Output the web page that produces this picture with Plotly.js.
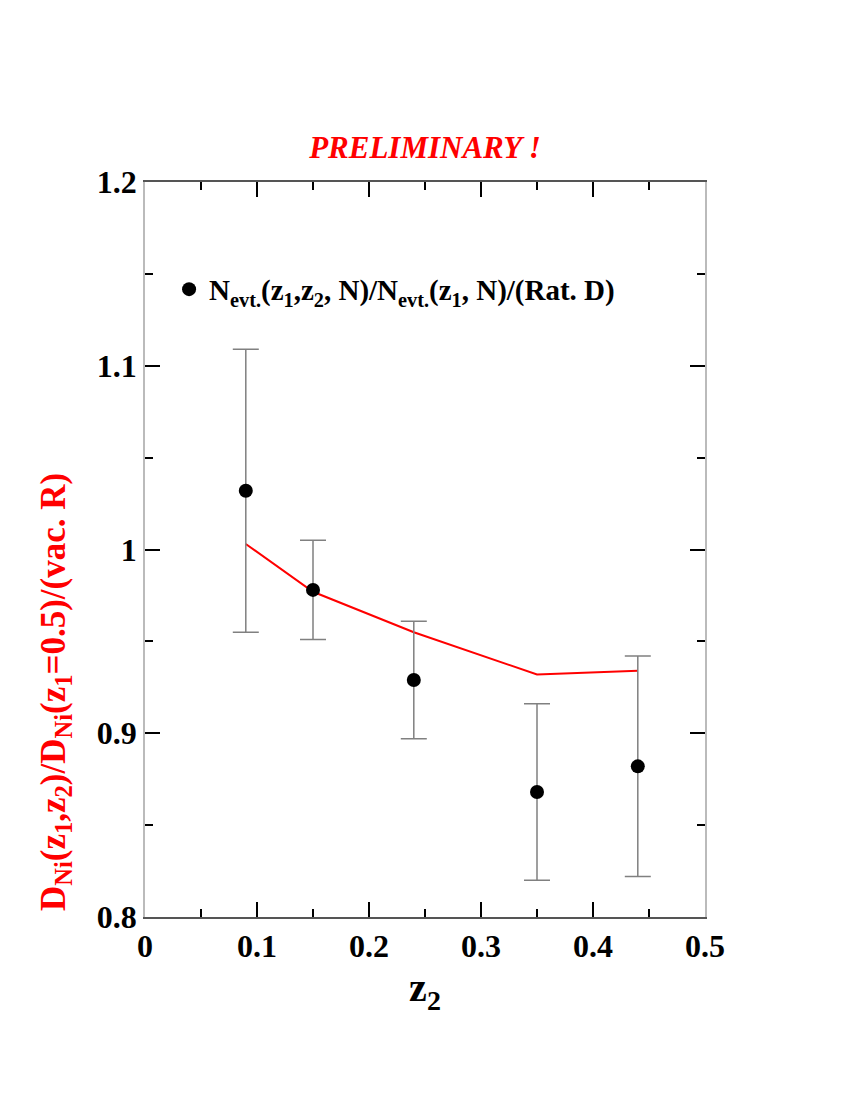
<!DOCTYPE html>
<html>
<head>
<meta charset="utf-8">
<script src="https://cdn.plot.ly/plotly-3.0.1.min.js"></script>
<style>
body { margin: 0; background: #fff; }
#c1 { width: 850px; height: 1100px; }
</style>
</head>
<body>
<div id="c1"></div>
<script>
// data points, error bar ends
var z2 = [0.09, 0.15, 0.24, 0.35, 0.44];
var ratio = [1.032, 0.978, 0.929, 0.868, 0.882];
var errTop = [1.109, 1.005, 0.961, 0.916, 0.942];
var errBot = [0.955, 0.951, 0.897, 0.820, 0.822];

// red curve
var curveX = [0.09, 0.15, 0.24, 0.35, 0.44];
var curveY = [1.003, 0.977, 0.955, 0.932, 0.934];

var up = [], down = [];
for (var i = 0; i < z2.length; i++) {
	up.push(errTop[i] - ratio[i]);
	down.push(ratio[i] - errBot[i]);
}

var font = 'Liberation Serif, Times New Roman, serif';

var trace1 = {
	x: curveX,
	y: curveY,
	mode: 'lines',
	type: 'scatter',
	line: {color: '#ff0000', width: 2},
	showlegend: false
};

var trace2 = {
	x: z2,
	y: ratio,
	mode: 'markers',
	type: 'scatter',
	name: '<b>N<sub>evt.</sub>(z<sub>1</sub>,z<sub>2</sub>, N)/N<sub>evt.</sub>(z<sub>1</sub>, N)/(Rat. D)</b>',
	marker: {color: '#000', size: 14},
	error_y: {
		type: 'data',
		symmetric: false,
		array: up,
		arrayminus: down,
		color: '#808080',
		thickness: 1.5,
		width: 13
	}
};

var layout = {
	width: 850,
	height: 1100,
	margin: {l: 145, r: 145, t: 182, b: 183},
	paper_bgcolor: '#fff',
	plot_bgcolor: '#fff',
	font: {family: font, color: '#000'},
	title: {
		text: '<b><i>PRELIMINARY !</i></b>',
		font: {family: font, size: 31, color: '#ff0000'},
		x: 0.5,
		xanchor: 'center',
		y: 0.866,
		yanchor: 'middle'
	},
	xaxis: {
		range: [0, 0.5],
		dtick: 0.1,
		tickformat: '.1~f',
		ticks: 'inside',
		ticklen: 15,
		tickwidth: 1.5,
		tickcolor: '#000',
		showgrid: false,
		zeroline: false,
		showline: true,
		linecolor: '#555',
		linewidth: 1.5,
		mirror: 'ticks',
		tickfont: {family: font, size: 32, color: '#000', weight: 'bold'},
		minor: {ticks: 'inside', ticklen: 8, dtick: 0.05, tickcolor: '#000', tickwidth: 1.5},
		title: {
			text: '<b>z<sub>2</sub></b>',
			font: {family: font, size: 40, color: '#000'},
			standoff: 10
		}
	},
	yaxis: {
		range: [0.8, 1.2],
		dtick: 0.1,
		tickformat: '.1~f',
		ticks: 'inside',
		ticklen: 15,
		tickwidth: 1.5,
		tickcolor: '#000',
		showgrid: false,
		zeroline: false,
		showline: true,
		linecolor: '#bbb',
		linewidth: 1.5,
		mirror: 'ticks',
		tickfont: {family: font, size: 32, color: '#000', weight: 'bold'},
		minor: {ticks: 'inside', ticklen: 8, dtick: 0.05, tickcolor: '#000', tickwidth: 1.5}
	},
	annotations: [{
		// y title sits below the middle of the axis in the original
		text: '<b>D<sub>Ni</sub>(z<sub>1</sub>,z<sub>2</sub>)/D<sub>Ni</sub>(z<sub>1</sub>=0.5)/(vac. R)</b>',
		textangle: -90,
		xref: 'paper',
		yref: 'paper',
		x: -0.161,
		y: 0.306,
		xanchor: 'center',
		yanchor: 'middle',
		showarrow: false,
		font: {family: font, size: 35, color: '#ff0000', weight: 'bold'}
	}],
	showlegend: true,
	legend: {
		x: 0.043,
		y: 0.854,
		xanchor: 'left',
		yanchor: 'middle',
		bgcolor: 'rgba(0,0,0,0)',
		font: {family: font, size: 29, color: '#000'},
		itemwidth: 30
	}
};

Plotly.newPlot('c1', [trace1, trace2], layout, {displayModeBar: false});
</script>
</body>
</html>
